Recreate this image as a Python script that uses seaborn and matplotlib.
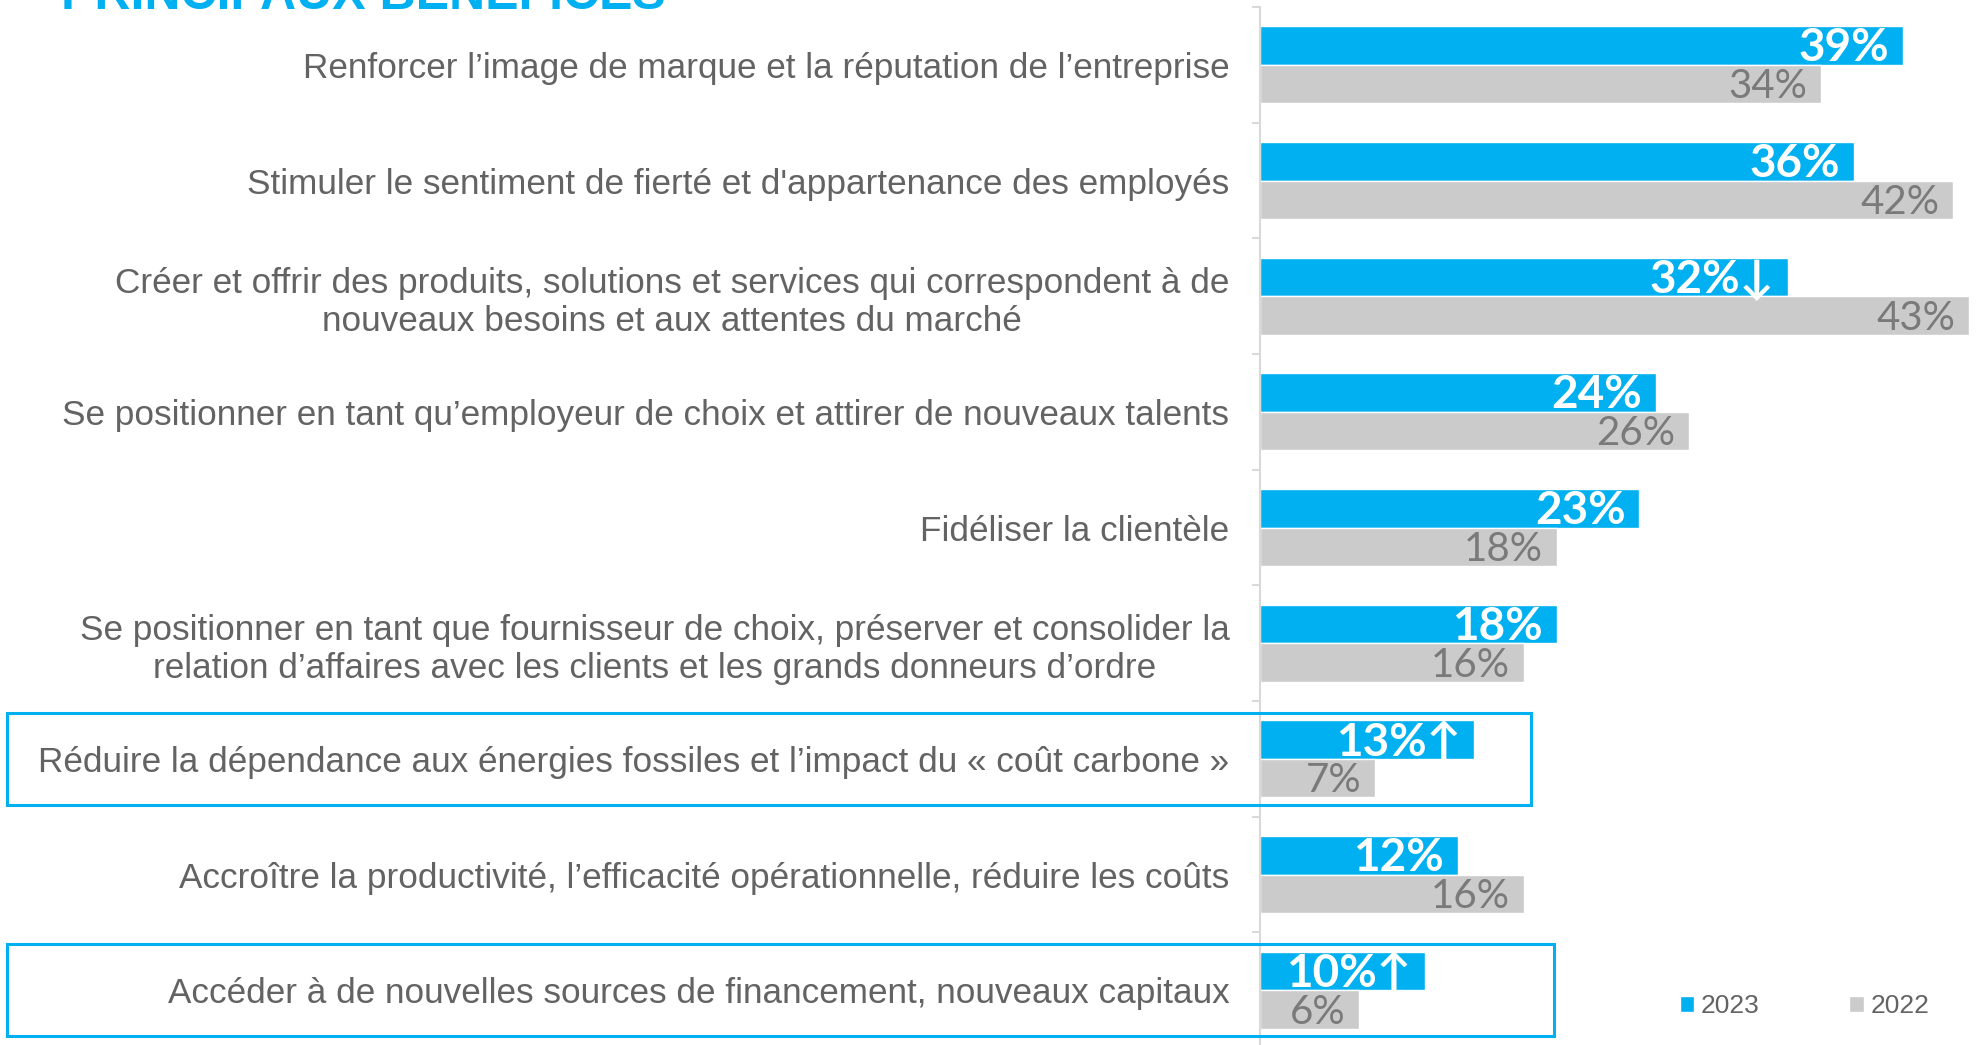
import pandas as pd
import matplotlib
matplotlib.use("Agg")
import matplotlib.pyplot as plt
import matplotlib.transforms as mtransforms
from matplotlib.patches import Patch, Rectangle
import seaborn as sns

# data
categories = [
    "Renforcer l’image de marque et la réputation de l’entreprise",
    "Stimuler le sentiment de fierté et d'appartenance des employés",
    "Créer et offrir des produits, solutions et services qui correspondent à de\nnouveaux besoins et aux attentes du marché",
    "Se positionner en tant qu’employeur de choix et attirer de nouveaux talents",
    "Fidéliser la clientèle",
    "Se positionner en tant que fournisseur de choix, préserver et consolider la\nrelation d’affaires avec les clients et les grands donneurs d’ordre",
    "Réduire la dépendance aux énergies fossiles et l’impact du « coût carbone »",
    "Accroître la productivité, l’efficacité opérationnelle, réduire les coûts",
    "Accéder à de nouvelles sources de financement, nouveaux capitaux",
]
values_2023 = [39, 36, 32, 24, 23, 18, 13, 12, 10]
values_2022 = [34, 42, 43, 26, 18, 16, 7, 16, 6]
trend_2023 = ["", "", "↓", "", "", "", "↑", "", "↑"]
years = ["2023", "2022"]
highlighted = [6, 8]

BLUE = "#00b0f0"
GREY_BAR = "#cbcbcb"
TEXT_GREY = "#636363"
VALUE_GREY = "#7a7a7a"

df = pd.DataFrame({
    "categorie": categories * 2,
    "valeur": values_2023 + values_2022,
    "annee": [years[0]] * len(categories) + [years[1]] * len(categories),
})

sns.set_theme(style="white")
plt.rcParams["font.family"] = ["Liberation Sans", "DejaVu Sans"]

fig = plt.figure(figsize=(19.81, 10.45), dpi=100)
ax = fig.add_axes([1260 / 1981, -0.0029, 721 / 1981, 0.9962])

sns.barplot(
    data=df, y="categorie", x="valeur", hue="annee",
    order=categories, hue_order=years,
    palette=[BLUE, GREY_BAR], saturation=1, width=0.665,
    orient="h", legend=False, ax=ax,
)

ax.set_xlim(0, 43.7)
ax.set_ylim(len(categories) - 0.5, -0.5)
ax.set_xlabel("")
ax.set_ylabel("")
ax.set_xticks([])

# category labels + tick marks between categories (Excel style)
ax.set_yticks(range(len(categories)))
ax.set_yticklabels(categories, fontsize=25.3, color=TEXT_GREY, multialignment="center")
ax.tick_params(axis="y", which="major", length=0, pad=22)
ax.set_yticks([i - 0.5 for i in range(len(categories) + 1)], minor=True)
ax.tick_params(axis="y", which="minor", length=6, width=1.5, color="#d9d9d9", left=True)

for side in ["top", "right", "bottom"]:
    ax.spines[side].set_visible(False)
ax.spines["left"].set_color("#d9d9d9")
ax.spines["left"].set_linewidth(1.5)

# value labels inside the bar ends
for i, patch in enumerate(ax.containers[0]):
    ax.annotate(
        f"{values_2023[i]}%{trend_2023[i]}",
        (patch.get_width(), patch.get_y() + patch.get_height() / 2),
        xytext=(-10, -2), textcoords="offset points",
        ha="right", va="center", color="white", fontsize=33, fontweight="bold",
        family=["Lato", "DejaVu Sans"],
    )
for i, patch in enumerate(ax.containers[1]):
    ax.annotate(
        f"{values_2022[i]}%",
        (patch.get_width(), patch.get_y() + patch.get_height() / 2),
        xytext=(-10, -2), textcoords="offset points",
        ha="right", va="center", color=VALUE_GREY, fontsize=29,
        family=["Lato", "DejaVu Sans"],
    )

# highlight boxes around two categories
box_trans = mtransforms.blended_transform_factory(fig.transFigure, ax.transData)
box_right = {6: 0.773, 8: 0.7845}
for idx in highlighted:
    fig.add_artist(Rectangle(
        (0.0035, idx - 0.4), box_right[idx] - 0.0035, 0.8,
        transform=box_trans, fill=False, edgecolor=BLUE, linewidth=2.2, clip_on=False,
    ))

# title, cut off at the top as in the reference
fig.text(0.031, 0.9914, "PRINCIPAUX BÉNÉFICES", color=BLUE, fontsize=36,
         fontweight="bold", ha="left", va="baseline")

handles = [Patch(facecolor=BLUE, label=years[0]), Patch(facecolor=GREY_BAR, label=years[1])]
leg = fig.legend(
    handles=handles, loc="center", bbox_to_anchor=(0.911, 0.037),
    ncol=2, frameon=False, fontsize=19, handlelength=0.55, handleheight=0.55,
    handletextpad=0.25, columnspacing=3.4,
)
for t in leg.get_texts():
    t.set_color(TEXT_GREY)

fig.savefig("out.png", dpi=100)
